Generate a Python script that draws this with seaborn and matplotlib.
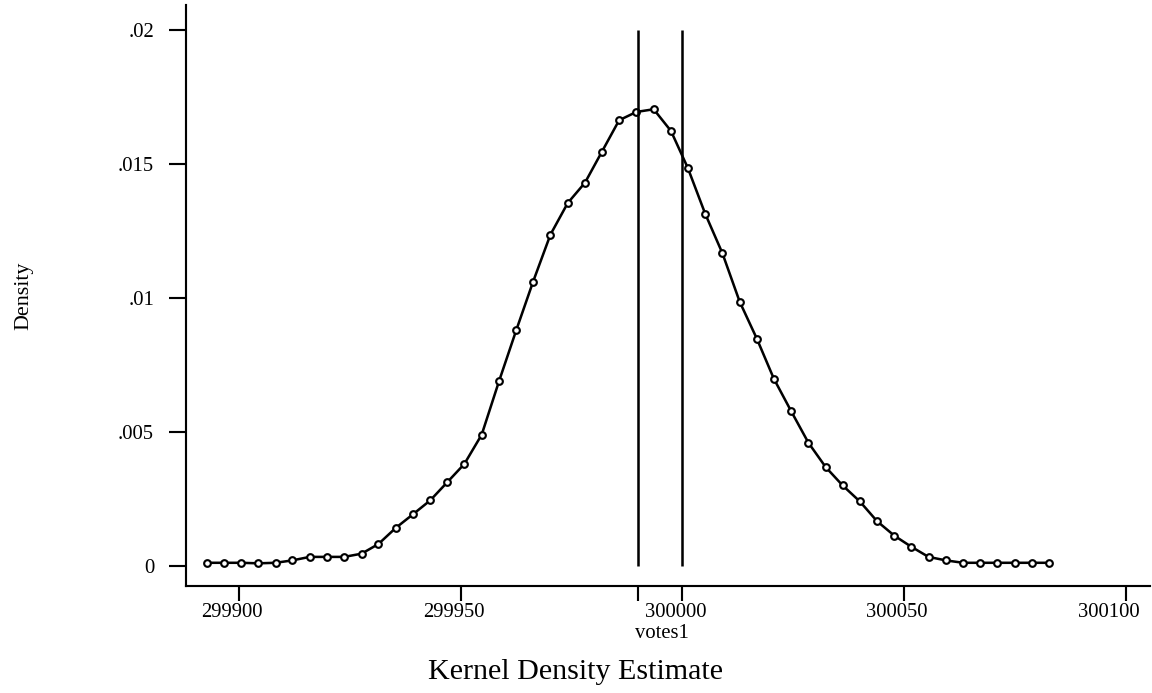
import matplotlib
matplotlib.use("Agg")
import matplotlib.pyplot as plt
import matplotlib.transforms as mtransforms
import seaborn as sns
import pandas as pd

# ---- data ----
votes1 = [299892.7, 299896.5, 299900.4, 299904.3, 299908.2, 299912.0, 299915.9, 299919.8,
          299923.7, 299927.6, 299931.4, 299935.3, 299939.2, 299943.1, 299946.9, 299950.8,
          299954.7, 299958.6, 299962.5, 299966.3, 299970.2, 299974.1, 299978.0, 299981.8,
          299985.7, 299989.6, 299993.5, 299997.4, 300001.2, 300005.1, 300009.0, 300012.9,
          300016.8, 300020.6, 300024.5, 300028.4, 300032.3, 300036.1, 300040.0, 300043.9,
          300047.8, 300051.6, 300055.5, 300059.4, 300063.3, 300067.2, 300071.0, 300074.9,
          300078.8, 300082.7]
density = [0.00012, 0.00012, 0.00012, 0.00010, 0.00012, 0.00021, 0.00034, 0.00034,
           0.00034, 0.00046, 0.00082, 0.00142, 0.00193, 0.00245, 0.00312, 0.00381,
           0.00490, 0.00689, 0.00880, 0.01061, 0.01236, 0.01354, 0.01430, 0.01545,
           0.01663, 0.01694, 0.01704, 0.01623, 0.01485, 0.01315, 0.01167, 0.00986,
           0.00847, 0.00699, 0.00578, 0.00460, 0.00369, 0.00301, 0.00241, 0.00167,
           0.00113, 0.00072, 0.00034, 0.00021, 0.00012, 0.00012, 0.00012, 0.00012,
           0.00012, 0.00012]
xlines = [299990, 300000]
xticks = [299900, 299950, 300000, 300050, 300100]
xtick_labels = ["299900", "299950", "300000", "300050", "300100"]
yticks = [0, 0.005, 0.01, 0.015, 0.02]
ytick_labels = ["0", ".005", ".01", ".015", ".02"]

df = pd.DataFrame({"votes1": votes1, "Density": density})

sns.set_theme(style="white")
plt.rcParams["font.family"] = ["Liberation Serif", "DejaVu Serif"]
plt.rcParams["text.color"] = "black"

fig = plt.figure(figsize=(12, 7.21875), dpi=96)
ax = fig.add_axes([0.1615, 0.1544, 0.8365, 0.8384])

sns.lineplot(data=df, x="votes1", y="Density", ax=ax, color="black", linewidth=1.9,
             marker="o", markersize=5, markerfacecolor="white",
             markeredgecolor="black", markeredgewidth=1.6)

ax.vlines(xlines, 0, 0.02, colors="black", linewidth=1.9)

ax.set_xlim(299888, 300105.4)
ax.set_ylim(-0.000746, 0.02093)

ax.set_xticks(xticks)
ax.set_xticklabels(xtick_labels)
ax.set_xticks([xlines[0]], minor=True)
ax.set_yticks(yticks)
ax.set_yticklabels(ytick_labels)

ax.tick_params(axis="both", which="both", bottom=True, left=True, direction="out",
               width=1.6, colors="black", labelcolor="black", labelsize=15.5)
ax.tick_params(axis="x", which="both", length=11, pad=2)
ax.tick_params(axis="y", which="both", length=13, pad=11)

# shift x tick labels slightly left (last one further, to stay inside the figure)
labels = ax.get_xticklabels()
for i, lab in enumerate(labels):
    dx = -17 if i == len(labels) - 1 else -7
    lab.set_transform(lab.get_transform() +
                      mtransforms.ScaledTranslation(dx / 96, 0, fig.dpi_scale_trans))

for side in ["top", "right"]:
    ax.spines[side].set_visible(False)
for side in ["left", "bottom"]:
    ax.spines[side].set_color("black")
    ax.spines[side].set_linewidth(1.6)

ax.set_xlabel("")
ax.set_ylabel("")
fig.text(0.5747, 0.086, "votes1", ha="center", va="center", fontsize=15.5, color="black")
fig.text(0.021, 0.573, "Density", rotation=90, ha="center", va="center", fontsize=16.5,
         color="black")
fig.text(0.5, 0.03, "Kernel Density Estimate", ha="center", va="center", fontsize=22.5,
         color="black")

fig.savefig("out.png", dpi=96, facecolor="white")
